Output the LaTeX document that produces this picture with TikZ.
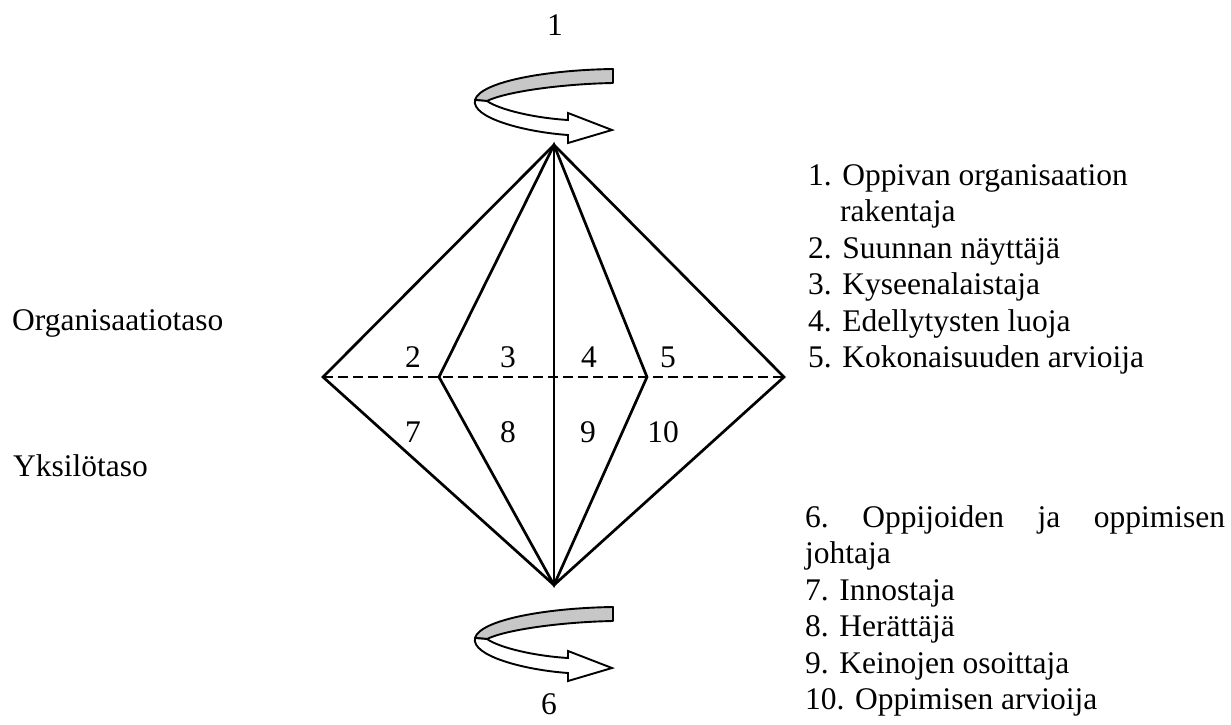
\documentclass[tikz,border=0pt]{standalone}
\usepackage{fontspec}
\setmainfont{Liberation Serif}
\begin{document}
\tikzset{
  txt/.style={font=\fontsize{31.5}{36.5}\selectfont, inner sep=0pt},
  edgeline/.style={line width=2.7pt, line join=miter, line cap=round},
  axisline/.style={line width=2pt},
  levelline/.style={line width=1.6pt, dash pattern=on 10pt off 5pt},
  band/.style={fill=black!22, draw=black, line width=1.9pt, line join=round},
  ribbon/.style={fill=white, draw=black, line width=1.9pt, line join=miter},
  turn/.pic={
    % back half of the rotation arrow (shaded)
    \path[band] (613,69) .. controls (545,70) and (480,82) .. (475,100)
      -- (487,101) .. controls (505,92) and (560,84) .. (613,83) -- cycle;
    % front half with the arrow head
    \path[ribbon] (475,100) .. controls (471,118) and (525,132) .. (568,135)
      -- (568,143) -- (612,130) -- (568,113) -- (568,120)
      .. controls (535,118) and (500,110) .. (487,101) -- cycle;
  }
}
\begin{tikzpicture}[x=1pt,y=-1pt]
\useasboundingbox (0,0) rectangle (1231,725);

% vertices of the double pyramid
\coordinate (T) at (554,145);
\coordinate (B) at (554,585);
\coordinate (L) at (323,377);
\coordinate (R) at (784,377);
\coordinate (IL) at (439,377);
\coordinate (IR) at (647,377);

% rotation arrows
\pic at (0,0) {turn};
\pic at (0,538) {turn};

% dashed level line
\draw[levelline] (L) -- (R);

% edges
\draw[edgeline] (L) -- (T) -- (R) -- (B) -- cycle;
\draw[edgeline] (IL) -- (T) -- (IR) -- (B) -- cycle;
\draw[axisline] (T) -- (B);

% axis labels
\node[txt,anchor=base] (a1) at (555,36) {1};
\node[txt,anchor=base] (a6) at (549,714) {6};

% face numbers
\node[txt,anchor=base] (f2) at (413,367) {2};
\node[txt,anchor=base] (f3) at (508,367) {3};
\node[txt,anchor=base] (f4) at (589,367) {4};
\node[txt,anchor=base] (f5) at (668,367) {5};
\node[txt,anchor=base] (f7) at (413,442) {7};
\node[txt,anchor=base] (f8) at (508,442) {8};
\node[txt,anchor=base] (f9) at (588,442) {9};
\node[txt,anchor=base] (f10) at (663,442) {10};

% level names
\node[txt,anchor=base west] (org) at (12,330) {Organisaatiotaso};
\node[txt,anchor=base west] (yks) at (13,476) {Yksilötaso};

% legend, organisation level
\node[txt,anchor=base west] (r1) at (808,185) {1. Oppivan organisaation};
\node[txt,anchor=base west] (r1b) at (840,221.5) {rakentaja};
\node[txt,anchor=base west] (r2) at (808,258) {2. Suunnan näyttäjä};
\node[txt,anchor=base west] (r3) at (808,294.5) {3. Kyseenalaistaja};
\node[txt,anchor=base west] (r4) at (808,331) {4. Edellytysten luoja};
\node[txt,anchor=base west] (r5) at (808,367.5) {5. Kokonaisuuden arvioija};

% legend, individual level
\node[txt,anchor=base west] (r6) at (805,527) {\hbox to 420pt{6.\hfill Oppijoiden\hfill ja\hfill oppimisen}};
\node[txt,anchor=base west] (r6b) at (805,563.5) {johtaja};
\node[txt,anchor=base west] (r7) at (805,600) {7. Innostaja};
\node[txt,anchor=base west] (r8) at (805,636.5) {8. Herättäjä};
\node[txt,anchor=base west] (r9) at (805,673) {9. Keinojen osoittaja};
\node[txt,anchor=base west] (r10) at (805,709.5) {10. Oppimisen arvioija};
\end{tikzpicture}
\end{document}
